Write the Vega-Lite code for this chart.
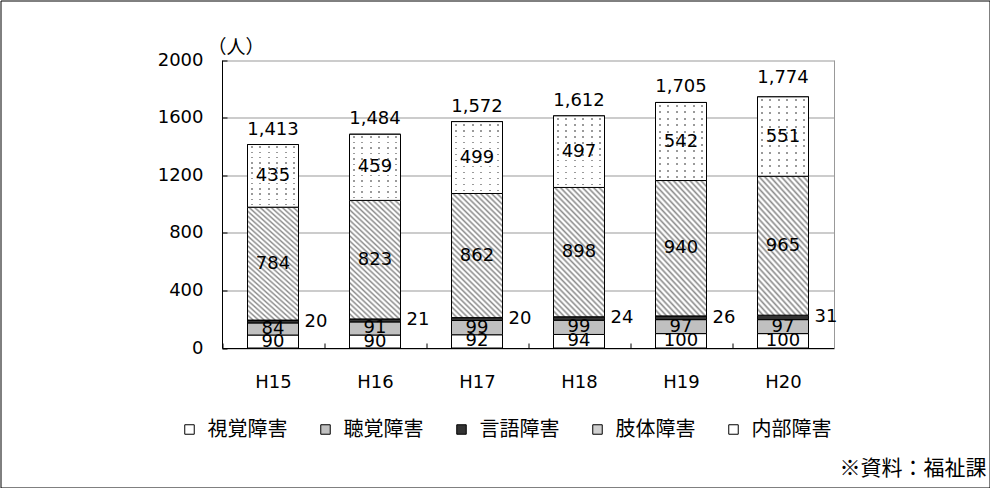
{
  "$schema": "https://vega.github.io/schema/vega-lite/v6.json",
  "width": 989,
  "height": 487,
  "autosize": {"type": "none"},
  "padding": 0.5,
  "background": "#ffffff",
  "config": {
    "view": {"stroke": "#000000", "strokeWidth": 1},
    "font": "DejaVu Sans"
  },
  "datasets": {
    "seg": [
      {"year": "H15", "type": "視覚障害", "n": 90},
      {"year": "H15", "type": "聴覚障害", "n": 84},
      {"year": "H15", "type": "言語障害", "n": 20},
      {"year": "H15", "type": "肢体障害", "n": 784},
      {"year": "H15", "type": "内部障害", "n": 435},
      {"year": "H16", "type": "視覚障害", "n": 90},
      {"year": "H16", "type": "聴覚障害", "n": 91},
      {"year": "H16", "type": "言語障害", "n": 21},
      {"year": "H16", "type": "肢体障害", "n": 823},
      {"year": "H16", "type": "内部障害", "n": 459},
      {"year": "H17", "type": "視覚障害", "n": 92},
      {"year": "H17", "type": "聴覚障害", "n": 99},
      {"year": "H17", "type": "言語障害", "n": 20},
      {"year": "H17", "type": "肢体障害", "n": 862},
      {"year": "H17", "type": "内部障害", "n": 499},
      {"year": "H18", "type": "視覚障害", "n": 94},
      {"year": "H18", "type": "聴覚障害", "n": 99},
      {"year": "H18", "type": "言語障害", "n": 24},
      {"year": "H18", "type": "肢体障害", "n": 898},
      {"year": "H18", "type": "内部障害", "n": 497},
      {"year": "H19", "type": "視覚障害", "n": 100},
      {"year": "H19", "type": "聴覚障害", "n": 97},
      {"year": "H19", "type": "言語障害", "n": 26},
      {"year": "H19", "type": "肢体障害", "n": 940},
      {"year": "H19", "type": "内部障害", "n": 542},
      {"year": "H20", "type": "視覚障害", "n": 100},
      {"year": "H20", "type": "聴覚障害", "n": 97},
      {"year": "H20", "type": "言語障害", "n": 31},
      {"year": "H20", "type": "肢体障害", "n": 965},
      {"year": "H20", "type": "内部障害", "n": 551}
    ],
    "tot": [
      {"year": "H15", "total": 1413},
      {"year": "H16", "total": 1484},
      {"year": "H17", "total": 1572},
      {"year": "H18", "total": 1612},
      {"year": "H19", "total": 1705},
      {"year": "H20", "total": 1774}
    ]
  },
  "resolve": {"axis": {"y": "independent"}},
  "layer": [
    {
      "data": {"name": "seg"},
      "transform": [
        {"calculate": "indexof(['視覚障害','聴覚障害','言語障害','肢体障害','内部障害'], datum.type)", "as": "k"},
        {"stack": "n", "groupby": ["year"], "sort": [{"field": "k", "order": "ascending"}], "as": ["y0", "y1"]}
      ],
      "mark": {"type": "bar", "stroke": "#000000", "strokeWidth": 1},
      "encoding": {
        "x": {
          "field": "year", "type": "nominal",
          "scale": {"range": [221.5, 833.5], "paddingInner": 0.5, "paddingOuter": 0.25},
          "axis": {
            "orient": "bottom", "offset": -139.5, "title": null,
            "labelAngle": 0, "labelFont": "DejaVu Sans", "labelFontSize": 18, "labelColor": "#000000",
            "labelPadding": 30, "labelBaseline": "top", "labelOffset": 25.5,
            "domainColor": "#000000", "tickColor": "#000000", "tickSize": -5,
            "bandPosition": 0, "tickOffset": -25.5,
            "grid": false
          }
        },
        "y": {
          "field": "y1", "type": "quantitative", "stack": null,
          "scale": {"domain": [0, 2000], "range": [347.5, 59.5], "nice": false, "zero": true},
          "axis": {
            "orient": "left", "offset": -221.5,
            "values": [0, 400, 800, 1200, 1600, 2000], "format": "d",
            "title": "（人）", "titleAngle": 0, "titleX": 13.5, "titleY": 46.5,
            "titleAlign": "center", "titleBaseline": "middle",
            "titleFont": "Noto Sans CJK JP", "titleFontSize": 19, "titleFontWeight": "normal", "titleColor": "#000000",
            "labelFont": "DejaVu Sans", "labelFontSize": 18, "labelColor": "#000000", "labelPadding": 24,
            "domainColor": "#000000", "tickColor": "#000000", "tickSize": -5,
            "grid": true, "gridColor": "#999999", "gridWidth": 1
          }
        },
        "y2": {"field": "y0"},
        "color": {
          "field": "type", "type": "nominal",
          "scale": {
            "domain": ["視覚障害", "聴覚障害", "言語障害", "肢体障害", "内部障害"],
            "range": ["#ffffff", "#c0c0c0", "#333333", "#d0d0d0", "#ffffff"]
          },
          "legend": {
            "title": null, "orient": "none", "legendX": 179, "legendY": 419,
            "direction": "horizontal", "symbolType": "square", "symbolSize": 90,
            "symbolStrokeColor": "#000000", "symbolStrokeWidth": 1,
            "labelFont": "Noto Sans CJK JP", "labelFontSize": 20, "labelColor": "#000000",
            "labelOffset": 8, "columnPadding": 28, "labelLimit": 0,
            "encode": {
              "symbols": {
                "update": {
                  "stroke": {"value": "#000000"},
                  "strokeWidth": {"value": 1},
                  "fill": [
                    {
                      "test": "datum.value === '肢体障害'",
                      "value": {
                        "gradient": "linear", "x1": 0, "y1": 1, "x2": 1, "y2": 0,
                        "stops": [
                          {"offset": 0, "color": "#ffffff"}, {"offset": 0.2, "color": "#ffffff"},
                          {"offset": 0.3, "color": "#808080"}, {"offset": 0.4, "color": "#ffffff"},
                          {"offset": 0.6, "color": "#ffffff"}, {"offset": 0.7, "color": "#808080"},
                          {"offset": 0.8, "color": "#ffffff"}, {"offset": 1, "color": "#ffffff"}
                        ]
                      }
                    },
                    {"scale": "color", "field": "value"}
                  ]
                }
              }
            }
          }
        }
      }
    },
    {
      "data": {"name": "seg"},
      "transform": [
        {"calculate": "indexof(['視覚障害','聴覚障害','言語障害','肢体障害','内部障害'], datum.type)", "as": "k"},
        {"stack": "n", "groupby": ["year"], "sort": [{"field": "k", "order": "ascending"}], "as": ["y0", "y1"]},
        {"filter": "datum.type === '肢体障害'"}
      ],
      "mark": {
        "type": "bar", "stroke": "#000000", "strokeWidth": 1,
        "fill": {
          "gradient": "linear", "x1": 0, "y1": 1, "x2": 0.4887, "y2": -0.207,
          "stops": [
            {"offset": 0, "color": "#8c8c8c"}, {"offset": 0.0125, "color": "#ffffff"}, {"offset": 0.01875, "color": "#ffffff"},
            {"offset": 0.03125, "color": "#8c8c8c"}, {"offset": 0.04375, "color": "#ffffff"}, {"offset": 0.05, "color": "#ffffff"},
            {"offset": 0.0625, "color": "#8c8c8c"}, {"offset": 0.075, "color": "#ffffff"}, {"offset": 0.08125, "color": "#ffffff"},
            {"offset": 0.09375, "color": "#8c8c8c"}, {"offset": 0.10625, "color": "#ffffff"}, {"offset": 0.1125, "color": "#ffffff"},
            {"offset": 0.125, "color": "#8c8c8c"}, {"offset": 0.1375, "color": "#ffffff"}, {"offset": 0.14375, "color": "#ffffff"},
            {"offset": 0.15625, "color": "#8c8c8c"}, {"offset": 0.16875, "color": "#ffffff"}, {"offset": 0.175, "color": "#ffffff"},
            {"offset": 0.1875, "color": "#8c8c8c"}, {"offset": 0.2, "color": "#ffffff"}, {"offset": 0.20625, "color": "#ffffff"},
            {"offset": 0.21875, "color": "#8c8c8c"}, {"offset": 0.23125, "color": "#ffffff"}, {"offset": 0.2375, "color": "#ffffff"},
            {"offset": 0.25, "color": "#8c8c8c"}, {"offset": 0.2625, "color": "#ffffff"}, {"offset": 0.26875, "color": "#ffffff"},
            {"offset": 0.28125, "color": "#8c8c8c"}, {"offset": 0.29375, "color": "#ffffff"}, {"offset": 0.3, "color": "#ffffff"},
            {"offset": 0.3125, "color": "#8c8c8c"}, {"offset": 0.325, "color": "#ffffff"}, {"offset": 0.33125, "color": "#ffffff"},
            {"offset": 0.34375, "color": "#8c8c8c"}, {"offset": 0.35625, "color": "#ffffff"}, {"offset": 0.3625, "color": "#ffffff"},
            {"offset": 0.375, "color": "#8c8c8c"}, {"offset": 0.3875, "color": "#ffffff"}, {"offset": 0.39375, "color": "#ffffff"},
            {"offset": 0.40625, "color": "#8c8c8c"}, {"offset": 0.41875, "color": "#ffffff"}, {"offset": 0.425, "color": "#ffffff"},
            {"offset": 0.4375, "color": "#8c8c8c"}, {"offset": 0.45, "color": "#ffffff"}, {"offset": 0.45625, "color": "#ffffff"},
            {"offset": 0.46875, "color": "#8c8c8c"}, {"offset": 0.48125, "color": "#ffffff"}, {"offset": 0.4875, "color": "#ffffff"},
            {"offset": 0.5, "color": "#8c8c8c"}, {"offset": 0.5125, "color": "#ffffff"}, {"offset": 0.51875, "color": "#ffffff"},
            {"offset": 0.53125, "color": "#8c8c8c"}, {"offset": 0.54375, "color": "#ffffff"}, {"offset": 0.55, "color": "#ffffff"},
            {"offset": 0.5625, "color": "#8c8c8c"}, {"offset": 0.575, "color": "#ffffff"}, {"offset": 0.58125, "color": "#ffffff"},
            {"offset": 0.59375, "color": "#8c8c8c"}, {"offset": 0.60625, "color": "#ffffff"}, {"offset": 0.6125, "color": "#ffffff"},
            {"offset": 0.625, "color": "#8c8c8c"}, {"offset": 0.6375, "color": "#ffffff"}, {"offset": 0.64375, "color": "#ffffff"},
            {"offset": 0.65625, "color": "#8c8c8c"}, {"offset": 0.66875, "color": "#ffffff"}, {"offset": 0.675, "color": "#ffffff"},
            {"offset": 0.6875, "color": "#8c8c8c"}, {"offset": 0.7, "color": "#ffffff"}, {"offset": 0.70625, "color": "#ffffff"},
            {"offset": 0.71875, "color": "#8c8c8c"}, {"offset": 0.73125, "color": "#ffffff"}, {"offset": 0.7375, "color": "#ffffff"},
            {"offset": 0.75, "color": "#8c8c8c"}, {"offset": 0.7625, "color": "#ffffff"}, {"offset": 0.76875, "color": "#ffffff"},
            {"offset": 0.78125, "color": "#8c8c8c"}, {"offset": 0.79375, "color": "#ffffff"}, {"offset": 0.8, "color": "#ffffff"},
            {"offset": 0.8125, "color": "#8c8c8c"}, {"offset": 0.825, "color": "#ffffff"}, {"offset": 0.83125, "color": "#ffffff"},
            {"offset": 0.84375, "color": "#8c8c8c"}, {"offset": 0.85625, "color": "#ffffff"}, {"offset": 0.8625, "color": "#ffffff"},
            {"offset": 0.875, "color": "#8c8c8c"}, {"offset": 0.8875, "color": "#ffffff"}, {"offset": 0.89375, "color": "#ffffff"},
            {"offset": 0.90625, "color": "#8c8c8c"}, {"offset": 0.91875, "color": "#ffffff"}, {"offset": 0.925, "color": "#ffffff"},
            {"offset": 0.9375, "color": "#8c8c8c"}, {"offset": 0.95, "color": "#ffffff"}, {"offset": 0.95625, "color": "#ffffff"},
            {"offset": 0.96875, "color": "#8c8c8c"}, {"offset": 0.98125, "color": "#ffffff"}, {"offset": 0.9875, "color": "#ffffff"},
            {"offset": 1, "color": "#8c8c8c"}
          ]
        }
      },
      "encoding": {
        "x": {"field": "year", "type": "nominal", "scale": {"range": [221.5, 833.5], "paddingInner": 0.5, "paddingOuter": 0.25}},
        "y": {"field": "y1", "type": "quantitative", "stack": null, "scale": {"domain": [0, 2000], "range": [347.5, 59.5], "nice": false, "zero": true}, "axis": null},
        "y2": {"field": "y0"}
      }
    },
    {
      "data": {"name": "seg"},
      "transform": [
        {"calculate": "indexof(['視覚障害','聴覚障害','言語障害','肢体障害','内部障害'], datum.type)", "as": "k"},
        {"stack": "n", "groupby": ["year"], "sort": [{"field": "k", "order": "ascending"}], "as": ["y0", "y1"]},
        {"filter": "datum.type === '内部障害'"}
      ],
      "mark": {
        "type": "bar", "stroke": "#000000", "strokeWidth": 1,
        "fill": {
          "gradient": "linear", "x1": 0, "y1": 0, "x2": 1, "y2": 0,
          "stops": [
            {"offset": 0, "color": "#ffffff"},
            {"offset": 0.0658, "color": "#ffffff"}, {"offset": 0.0658, "color": "#9a9a9a"}, {"offset": 0.1008, "color": "#9a9a9a"}, {"offset": 0.1008, "color": "#ffffff"},
            {"offset": 0.2325, "color": "#ffffff"}, {"offset": 0.2325, "color": "#9a9a9a"}, {"offset": 0.2675, "color": "#9a9a9a"}, {"offset": 0.2675, "color": "#ffffff"},
            {"offset": 0.3992, "color": "#ffffff"}, {"offset": 0.3992, "color": "#9a9a9a"}, {"offset": 0.4342, "color": "#9a9a9a"}, {"offset": 0.4342, "color": "#ffffff"},
            {"offset": 0.5658, "color": "#ffffff"}, {"offset": 0.5658, "color": "#9a9a9a"}, {"offset": 0.6008, "color": "#9a9a9a"}, {"offset": 0.6008, "color": "#ffffff"},
            {"offset": 0.7325, "color": "#ffffff"}, {"offset": 0.7325, "color": "#9a9a9a"}, {"offset": 0.7675, "color": "#9a9a9a"}, {"offset": 0.7675, "color": "#ffffff"},
            {"offset": 0.8992, "color": "#ffffff"}, {"offset": 0.8992, "color": "#9a9a9a"}, {"offset": 0.9342, "color": "#9a9a9a"}, {"offset": 0.9342, "color": "#ffffff"},
            {"offset": 1, "color": "#ffffff"}
          ]
        }
      },
      "encoding": {
        "x": {"field": "year", "type": "nominal", "scale": {"range": [221.5, 833.5], "paddingInner": 0.5, "paddingOuter": 0.25}},
        "y": {"field": "y1", "type": "quantitative", "stack": null, "scale": {"domain": [0, 2000], "range": [347.5, 59.5], "nice": false, "zero": true}, "axis": null},
        "y2": {"field": "y0"}
      }
    },
    {
      "data": {"name": "seg"},
      "transform": [
        {"calculate": "indexof(['視覚障害','聴覚障害','言語障害','肢体障害','内部障害'], datum.type)", "as": "k"},
        {"stack": "n", "groupby": ["year"], "sort": [{"field": "k", "order": "ascending"}], "as": ["y0", "y1"]},
        {"filter": "datum.type === '内部障害'"}
      ],
      "mark": {
        "type": "bar", "stroke": "#000000", "strokeWidth": 1,
        "fill": {
          "gradient": "linear", "x1": 0, "y1": 0, "x2": 0, "y2": 1,
          "stops": [
            {"offset": 0, "color": "#ffffff"},
            {"offset": 0.0292, "color": "#ffffff"}, {"offset": 0.0292, "color": "rgba(255,255,255,0)"}, {"offset": 0.0542, "color": "rgba(255,255,255,0)"}, {"offset": 0.0542, "color": "#ffffff"},
            {"offset": 0.1125, "color": "#ffffff"}, {"offset": 0.1125, "color": "rgba(255,255,255,0)"}, {"offset": 0.1375, "color": "rgba(255,255,255,0)"}, {"offset": 0.1375, "color": "#ffffff"},
            {"offset": 0.1958, "color": "#ffffff"}, {"offset": 0.1958, "color": "rgba(255,255,255,0)"}, {"offset": 0.2208, "color": "rgba(255,255,255,0)"}, {"offset": 0.2208, "color": "#ffffff"},
            {"offset": 0.2792, "color": "#ffffff"}, {"offset": 0.2792, "color": "rgba(255,255,255,0)"}, {"offset": 0.3042, "color": "rgba(255,255,255,0)"}, {"offset": 0.3042, "color": "#ffffff"},
            {"offset": 0.3625, "color": "#ffffff"}, {"offset": 0.3625, "color": "rgba(255,255,255,0)"}, {"offset": 0.3875, "color": "rgba(255,255,255,0)"}, {"offset": 0.3875, "color": "#ffffff"},
            {"offset": 0.4458, "color": "#ffffff"}, {"offset": 0.4458, "color": "rgba(255,255,255,0)"}, {"offset": 0.4708, "color": "rgba(255,255,255,0)"}, {"offset": 0.4708, "color": "#ffffff"},
            {"offset": 0.5292, "color": "#ffffff"}, {"offset": 0.5292, "color": "rgba(255,255,255,0)"}, {"offset": 0.5542, "color": "rgba(255,255,255,0)"}, {"offset": 0.5542, "color": "#ffffff"},
            {"offset": 0.6125, "color": "#ffffff"}, {"offset": 0.6125, "color": "rgba(255,255,255,0)"}, {"offset": 0.6375, "color": "rgba(255,255,255,0)"}, {"offset": 0.6375, "color": "#ffffff"},
            {"offset": 0.6958, "color": "#ffffff"}, {"offset": 0.6958, "color": "rgba(255,255,255,0)"}, {"offset": 0.7208, "color": "rgba(255,255,255,0)"}, {"offset": 0.7208, "color": "#ffffff"},
            {"offset": 0.7792, "color": "#ffffff"}, {"offset": 0.7792, "color": "rgba(255,255,255,0)"}, {"offset": 0.8042, "color": "rgba(255,255,255,0)"}, {"offset": 0.8042, "color": "#ffffff"},
            {"offset": 0.8625, "color": "#ffffff"}, {"offset": 0.8625, "color": "rgba(255,255,255,0)"}, {"offset": 0.8875, "color": "rgba(255,255,255,0)"}, {"offset": 0.8875, "color": "#ffffff"},
            {"offset": 0.9458, "color": "#ffffff"}, {"offset": 0.9458, "color": "rgba(255,255,255,0)"}, {"offset": 0.9708, "color": "rgba(255,255,255,0)"}, {"offset": 0.9708, "color": "#ffffff"},
            {"offset": 1, "color": "#ffffff"}
          ]
        }
      },
      "encoding": {
        "x": {"field": "year", "type": "nominal", "scale": {"range": [221.5, 833.5], "paddingInner": 0.5, "paddingOuter": 0.25}},
        "y": {"field": "y1", "type": "quantitative", "stack": null, "scale": {"domain": [0, 2000], "range": [347.5, 59.5], "nice": false, "zero": true}, "axis": null},
        "y2": {"field": "y0"}
      }
    },
    {
      "data": {"name": "seg"},
      "transform": [
        {"calculate": "indexof(['視覚障害','聴覚障害','言語障害','肢体障害','内部障害'], datum.type)", "as": "k"},
        {"stack": "n", "groupby": ["year"], "sort": [{"field": "k", "order": "ascending"}], "as": ["y0", "y1"]},
        {"calculate": "(datum.y0 + datum.y1) / 2", "as": "ymid"},
        {"filter": "datum.type !== '言語障害'"}
      ],
      "mark": {"type": "text", "font": "DejaVu Sans", "fontSize": 18, "color": "#000000", "baseline": "middle", "align": "center"},
      "encoding": {
        "x": {"field": "year", "type": "nominal", "scale": {"range": [221.5, 833.5], "paddingInner": 0.5, "paddingOuter": 0.25}},
        "y": {"field": "ymid", "type": "quantitative", "stack": null, "scale": {"domain": [0, 2000], "range": [347.5, 59.5], "nice": false, "zero": true}, "axis": null},
        "text": {"field": "n", "type": "quantitative"}
      }
    },
    {
      "data": {"name": "seg"},
      "transform": [
        {"calculate": "indexof(['視覚障害','聴覚障害','言語障害','肢体障害','内部障害'], datum.type)", "as": "k"},
        {"stack": "n", "groupby": ["year"], "sort": [{"field": "k", "order": "ascending"}], "as": ["y0", "y1"]},
        {"calculate": "(datum.y0 + datum.y1) / 2", "as": "ymid"},
        {"filter": "datum.type === '言語障害'"}
      ],
      "mark": {"type": "text", "font": "DejaVu Sans", "fontSize": 18, "color": "#000000", "baseline": "middle", "align": "left", "dx": 31.5},
      "encoding": {
        "x": {"field": "year", "type": "nominal", "scale": {"range": [221.5, 833.5], "paddingInner": 0.5, "paddingOuter": 0.25}},
        "y": {"field": "ymid", "type": "quantitative", "stack": null, "scale": {"domain": [0, 2000], "range": [347.5, 59.5], "nice": false, "zero": true}, "axis": null},
        "text": {"field": "n", "type": "quantitative"}
      }
    },
    {
      "data": {"name": "tot"},
      "mark": {"type": "text", "font": "DejaVu Sans", "fontSize": 18, "color": "#000000", "baseline": "alphabetic", "align": "center", "dy": -10},
      "encoding": {
        "x": {"field": "year", "type": "nominal", "scale": {"range": [221.5, 833.5], "paddingInner": 0.5, "paddingOuter": 0.25}},
        "y": {
          "field": "total", "type": "quantitative", "stack": null,
          "scale": {"domain": [0, 2000], "range": [347.5, 59.5], "nice": false, "zero": true},
          "axis": {
            "orient": "right", "offset": -155.5,
            "title": "※資料：福祉課", "titleAngle": 0, "titleX": 152, "titleY": 467.5,
            "titleAlign": "right", "titleBaseline": "middle",
            "titleFont": "Noto Sans CJK JP", "titleFontSize": 21, "titleFontWeight": "normal", "titleColor": "#000000",
            "labels": false, "ticks": false, "grid": false,
            "domainColor": "#999999", "domainWidth": 1
          }
        },
        "text": {"field": "total", "type": "quantitative", "format": ","}
      }
    }
  ]
}
